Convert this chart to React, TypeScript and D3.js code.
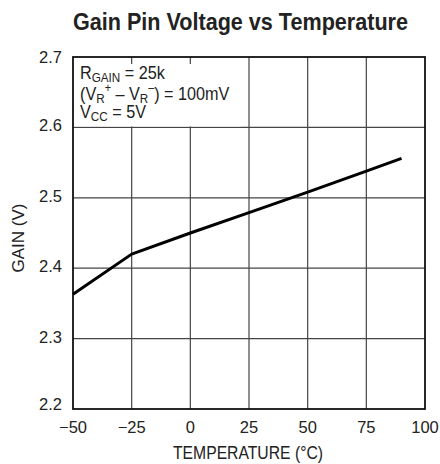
import React from "react";
import * as d3 from "d3";

const temps = [-50, -25, 0, 25, 50, 75, 90];
const gain = [2.363, 2.42, 2.45, 2.479, 2.508, 2.538, 2.556];
const xTicks = [-50, -25, 0, 25, 50, 75, 100];
const yTicks = [2.2, 2.3, 2.4, 2.5, 2.6, 2.7];

const FONT = "'Liberation Sans', Arial, sans-serif";

export default function App() {
  const W = 440, H = 464;
  const left = 73, right = 425, top = 57, bottom = 409;
  const x = d3.scaleLinear().domain([-50, 100]).range([left, right]);
  const y = d3.scaleLinear().domain([2.2, 2.7]).range([bottom, top]);
  const line = d3.line<number>().x((_, i) => x(temps[i])).y((d) => y(d));
  const path = line(gain) || "";
  const yOff = (t: number) => (t === 2.2 ? 1 : t === 2.7 ? 6 : 4);
  const ax = 80;

  return (
    <svg width={W} height={H} style={{ position: "absolute", left: 0, top: 0, background: "#fff" }} fontFamily={FONT}>
      <rect x={0} y={0} width={W} height={H} fill="#fff" />
      <text x={73} y={30} fontSize={24} fontWeight="bold" fill="#222" textLength={335} lengthAdjust="spacingAndGlyphs">
        Gain Pin Voltage vs Temperature
      </text>
      {xTicks.slice(1, -1).map((t) => (
        <line key={"gx" + t} x1={x(t)} x2={x(t)} y1={top} y2={bottom} stroke="#444" strokeWidth={1.2} />
      ))}
      {yTicks.slice(1, -1).map((t) => (
        <line key={"gy" + t} x1={left} x2={right} y1={y(t)} y2={y(t)} stroke="#444" strokeWidth={1.2} />
      ))}
      <rect x={left + 1} y={64} width={167} height={y(2.6) - 64 - 1} fill="#fff" />
      <rect x={left} y={top} width={right - left} height={bottom - top} fill="none" stroke="#111" strokeWidth={1.8} />
      <path d={path} fill="none" stroke="#000" strokeWidth={3} strokeLinejoin="round" />
      {yTicks.map((t) => (
        <text key={"yl" + t} x={62} y={y(t) + yOff(t)} textAnchor="end" fontSize={16.5} fill="#222">
          {t.toFixed(1)}
        </text>
      ))}
      {xTicks.map((t) => (
        <text key={"xl" + t} x={x(t)} y={433} textAnchor="middle" fontSize={16.5} fill="#222">
          {t < 0 ? "\u2212" + Math.abs(t) : String(t)}
        </text>
      ))}
      <text x={173} y={459} fontSize={17.5} fill="#222" textLength={150} lengthAdjust="spacingAndGlyphs">
        TEMPERATURE (°C)
      </text>
      <text transform="translate(23.5,238) rotate(-90)" textAnchor="middle" fontSize={17} fill="#222">
        GAIN (V)
      </text>
      <g fontSize={18} fill="#222" transform={`translate(${ax},0) scale(0.9,1) translate(${-ax},0)`}>
        <text x={ax} y={79}>
          R<tspan fontSize={13} dy={3}>GAIN</tspan>
          <tspan dy={-3}> = 25k</tspan>
        </text>
        <text x={ax} y={100}>
          (V<tspan fontSize={13} dy={3}>R</tspan>
          <tspan fontSize={12} dy={-11}>+</tspan>
          <tspan dy={8}> – V</tspan>
          <tspan fontSize={13} dy={3}>R</tspan>
          <tspan fontSize={12} dy={-11}>–</tspan>
          <tspan dy={8}>) = 100mV</tspan>
        </text>
        <text x={ax} y={118}>
          V<tspan fontSize={13} dy={3}>CC</tspan>
          <tspan dy={-3}> = 5V</tspan>
        </text>
      </g>
    </svg>
  );
}
